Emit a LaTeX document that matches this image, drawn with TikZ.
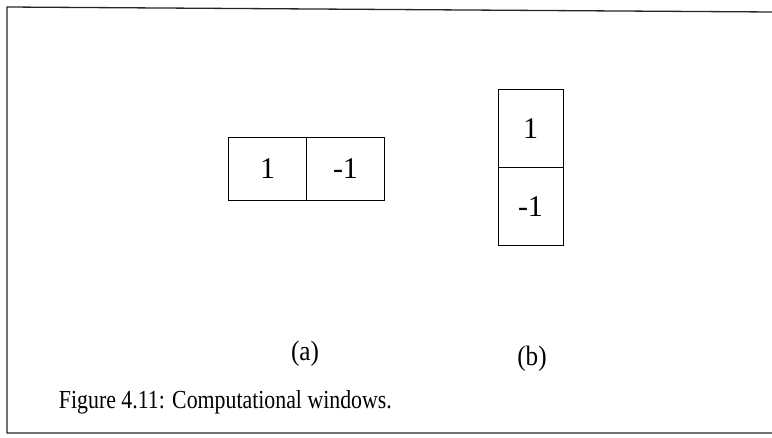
\documentclass[tikz,border=0pt]{standalone}
\usepackage{fontspec}
\setmainfont{Liberation Serif}
\begin{document}
\begin{tikzpicture}[x=1pt,y=-1pt,
  frameline/.style={line width=1.3pt,black!85},
  cell/.style={draw,line width=0.8pt,minimum width=78pt,minimum height=63pt,inner sep=0pt,font=\fontsize{30}{32}\selectfont},
  vcell/.style={draw,line width=0.8pt,minimum width=65pt,minimum height=78pt,inner sep=0pt,font=\fontsize{30}{32}\selectfont},
  lbl/.style={font=\fontsize{28}{30}\selectfont,xscale=0.9},
  captionstyle/.style={font=\fontsize{26}{28}\selectfont,xscale=0.84}]
\useasboundingbox (0,0) rectangle (772,438);
\coordinate (tl) at (7,7);
\coordinate (tr) at (772,12);
\coordinate (bl) at (7,433);
\coordinate (br) at (772,433);
\draw[frameline] (tr) -- (tl) -- (bl) -- (br);
% (a)
\node[cell] (a1) at (267.5,168.5) {1};
\node[cell] (a2) at (345.5,168.5) {-1};
% (b)
\node[vcell] (b1) at (530.5,128.5) {1};
\node[vcell] (b2) at (530.5,206.5) {-1};
\node[lbl] (la) at (305,354) {(a)};
\node[lbl] (lb) at (532,359) {(b)};
\node[captionstyle,anchor=west] (cap) at (56,402) {Figure 4.11: Computational windows.};
\end{tikzpicture}
\end{document}
